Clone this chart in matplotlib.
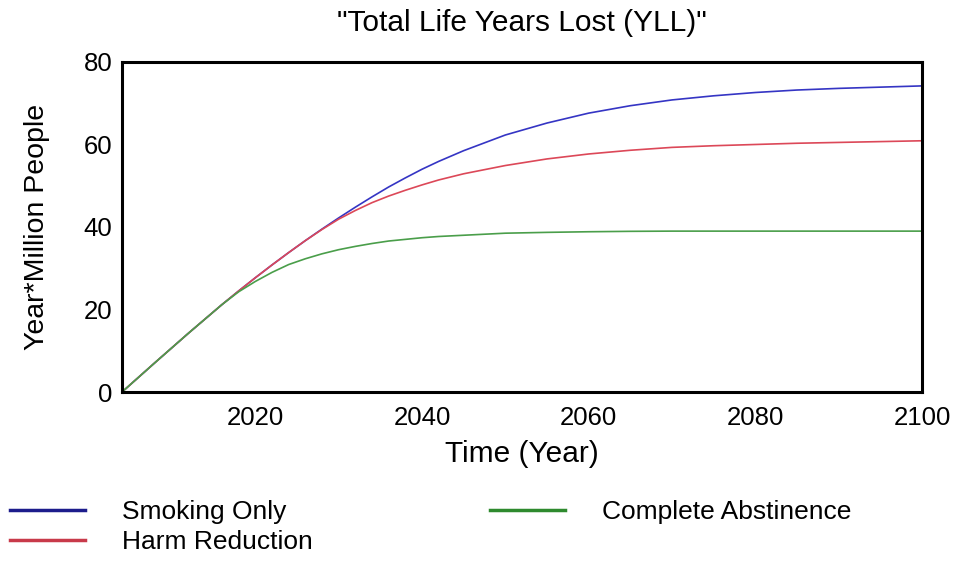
import matplotlib.pyplot as plt
from matplotlib.lines import Line2D

plt.rcParams['font.family'] = ['Liberation Sans', 'DejaVu Sans']

# Values
years = [2004, 2008, 2012, 2016, 2018, 2020, 2022, 2024, 2026, 2028, 2030,
         2032, 2034, 2036, 2038, 2040, 2042, 2045, 2050, 2055, 2060, 2065,
         2070, 2075, 2080, 2085, 2090, 2095, 2100]
smoking_only = [0, 7.2, 14.3, 21.2, 24.5, 27.7, 30.8, 33.8, 36.7, 39.5, 42.2,
                44.8, 47.3, 49.7, 51.9, 54.0, 55.9, 58.5, 62.3, 65.2, 67.6, 69.4,
                70.8, 71.8, 72.6, 73.2, 73.6, 73.9, 74.2]
harm_reduction = [0, 7.2, 14.3, 21.2, 24.5, 27.7, 30.8, 33.8, 36.7, 39.4, 41.9,
                  44.0, 45.9, 47.5, 48.9, 50.2, 51.4, 52.9, 54.9, 56.5, 57.7, 58.6,
                  59.3, 59.7, 60.0, 60.3, 60.5, 60.7, 60.9]
complete_abstinence = [0, 7.2, 14.3, 21.2, 24.3, 26.8, 29.0, 30.9, 32.3, 33.5, 34.5,
                       35.3, 36.0, 36.6, 37.0, 37.4, 37.7, 38.0, 38.5, 38.7, 38.85, 38.95,
                       39.0, 39.0, 39.0, 39.0, 39.0, 39.0, 39.0]

labels = ['Smoking Only', 'Harm Reduction', 'Complete Abstinence']
line_colors = ['#3535c4', '#dc4858', '#4a9e4a']
legend_colors = ['#1c1c8c', '#c83a4a', '#2e8a2e']

fig = plt.figure(figsize=(9.69, 5.67), dpi=100)
ax = fig.add_axes([0.1259, 0.3086, 0.8256, 0.5821])

for vals, c in zip([smoking_only, harm_reduction, complete_abstinence], line_colors):
    ax.plot(years, vals, color=c, lw=1.2)

ax.set_xlim(2004, 2100)
ax.set_ylim(0, 80)
ax.set_xticks([2020, 2040, 2060, 2080, 2100])
ax.set_yticks([0, 20, 40, 60, 80])
ax.tick_params(length=0, labelsize=18.5)
ax.tick_params(axis='x', pad=10)
ax.tick_params(axis='y', pad=7)
for s in ax.spines.values():
    s.set_linewidth(2.2)
    s.set_color('black')

ax.set_title('"Total Life Years Lost (YLL)"', fontsize=21.5, pad=22)
ax.set_xlabel('Time (Year)', fontsize=21.5, labelpad=7)
ax.set_ylabel('Year*Million People', fontsize=20.5, labelpad=24)

handles = [Line2D([], [], color=c, lw=2.5) for c in legend_colors]
fig.legend(handles, labels, ncol=2, loc='upper left', bbox_to_anchor=(10 / 969, 0.118),
           frameon=False, fontsize=19, handlelength=2.85, handletextpad=1.4,
           columnspacing=6.7, labelspacing=0.22, borderpad=0, borderaxespad=0)

fig.savefig('out.png', dpi=100)
